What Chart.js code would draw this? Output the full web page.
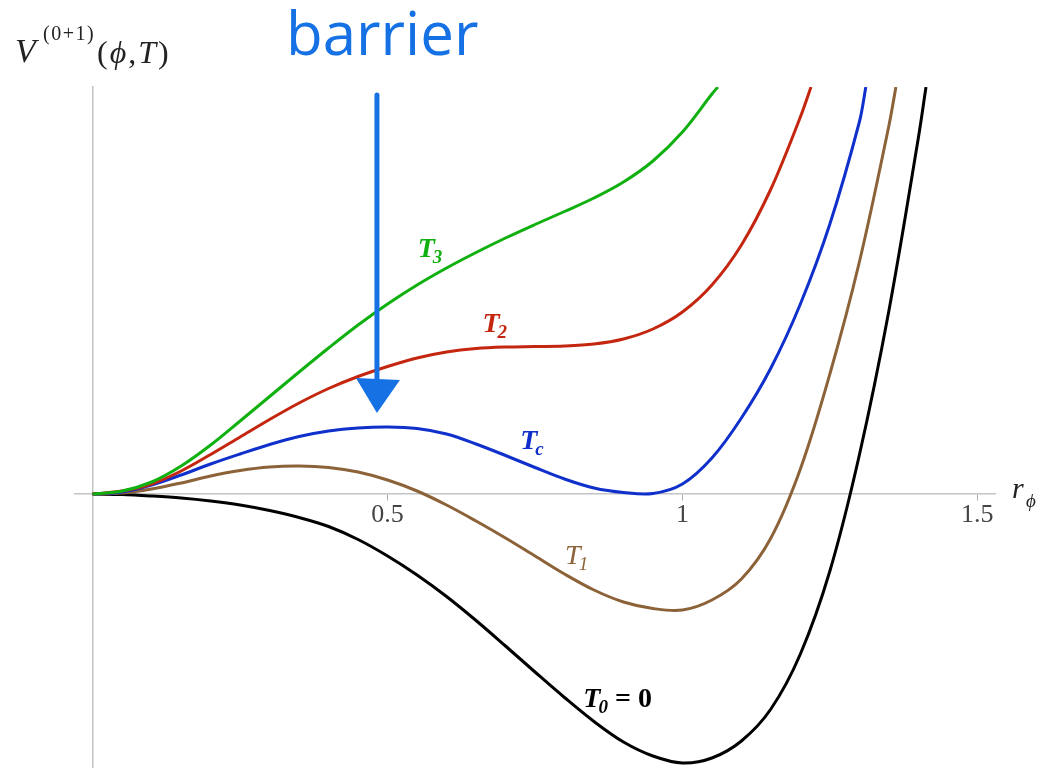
<!DOCTYPE html>
<html>
<head>
<meta charset="utf-8">
<script src="https://cdn.jsdelivr.net/npm/chart.js@4/dist/chart.umd.min.js"></script>
<style>
  html, body { margin: 0; padding: 0; background: #ffffff; }
  canvas { display: block; }
</style>
</head>
<body>
<canvas id="chart" width="1040" height="768"></canvas>
<script>
// Field value r_phi and potential V(phi,T) sampled along each temperature curve
const phiT3 = [0, 0.05, 0.1, 0.15, 0.2, 0.25, 0.3, 0.35, 0.4, 0.45, 0.5, 0.55, 0.6, 0.65, 0.7, 0.75, 0.8, 0.85, 0.9, 0.95, 1.0, 1.05, 1.06];
const vT3   = [0, 0.03, 0.12, 0.28, 0.49, 0.73, 0.975, 1.22, 1.46, 1.69, 1.90, 2.09, 2.26, 2.415, 2.56, 2.695, 2.825, 2.96, 3.12, 3.33, 3.62, 4.00, 4.07];

const phiT2 = [0, 0.05, 0.1, 0.15, 0.2, 0.25, 0.3, 0.35, 0.4, 0.45, 0.5, 0.55, 0.6, 0.65, 0.7, 0.75, 0.8, 0.85, 0.9, 0.95, 1.0, 1.05, 1.1, 1.15, 1.2, 1.218];
const vT2   = [0, 0.03, 0.10, 0.23, 0.395, 0.57, 0.745, 0.91, 1.055, 1.175, 1.275, 1.36, 1.42, 1.455, 1.47, 1.475, 1.48, 1.50, 1.55, 1.65, 1.82, 2.09, 2.49, 3.05, 3.77, 4.07];

const phiTc = [0, 0.05, 0.1, 0.15, 0.2, 0.25, 0.3, 0.35, 0.4, 0.45, 0.5, 0.55, 0.6, 0.65, 0.7, 0.75, 0.8, 0.85, 0.9, 0.95, 1.0, 1.05, 1.1, 1.15, 1.2, 1.25, 1.3, 1.311];
const vTc   = [0, 0.02, 0.09, 0.19, 0.30, 0.40, 0.495, 0.575, 0.63, 0.66, 0.67, 0.655, 0.60, 0.50, 0.385, 0.265, 0.15, 0.06, 0.015, 0.005, 0.10, 0.36, 0.76, 1.26, 1.90, 2.70, 3.72, 4.07];

const phiT1 = [0, 0.05, 0.1, 0.15, 0.2, 0.25, 0.3, 0.35, 0.4, 0.45, 0.5, 0.55, 0.6, 0.65, 0.7, 0.75, 0.8, 0.85, 0.9, 0.95, 1.0, 1.05, 1.1, 1.15, 1.2, 1.25, 1.3, 1.35, 1.362];
const vT1   = [0, 0.01, 0.05, 0.11, 0.18, 0.235, 0.27, 0.28, 0.265, 0.22, 0.14, 0.03, -0.11, -0.27, -0.44, -0.62, -0.80, -0.96, -1.08, -1.145, -1.16, -1.06, -0.85, -0.44, 0.25, 1.20, 2.32, 3.68, 4.07];

const phiT0 = [0, 0.05, 0.1, 0.15, 0.2, 0.25, 0.3, 0.35, 0.4, 0.45, 0.5, 0.55, 0.6, 0.65, 0.7, 0.75, 0.8, 0.85, 0.9, 0.95, 1.0, 1.05, 1.1, 1.15, 1.2, 1.25, 1.3, 1.35, 1.4, 1.413];
const vT0   = [0, -0.005, -0.02, -0.04, -0.07, -0.11, -0.165, -0.235, -0.325, -0.455, -0.62, -0.81, -1.025, -1.265, -1.52, -1.78, -2.035, -2.275, -2.48, -2.62, -2.69, -2.64, -2.47, -2.15, -1.60, -0.77, 0.39, 1.83, 3.56, 4.07];

// Tick labels on the r_phi axis
const xTickValues = [0.5, 1, 1.5];

// Barrier arrow: r_phi position and the potential values it spans
const arrowPhi = 0.482;
const arrowTop = 3.99;
const arrowHeadBase = 1.16;
const arrowTip = 0.81;

const COLORS = {
  T3: '#10b010',
  T2: '#c4260f',
  Tc: '#1030cc',
  T1: '#8c6239',
  T0: '#000000',
  note: '#1672e4',
  axis: '#c4c4c4',
  tickText: '#444444'
};

function series(xs, ys) {
  return xs.map((x, i) => ({ x: x, y: ys[i] }));
}

function curve(label, xs, ys, color) {
  return {
    label: label,
    data: series(xs, ys),
    borderColor: color,
    backgroundColor: color,
    borderWidth: 3,
    pointRadius: 0,
    showLine: true,
    fill: false,
    tension: 0.35
  };
}

// Curve labels, anchored in data coordinates
const curveLabels = [
  { main: 'T', sub: '3', rest: '', phi: 0.551, v: 2.37, color: COLORS.T3, bold: true },
  { main: 'T', sub: '2', rest: '', phi: 0.661, v: 1.62, color: COLORS.T2, bold: true },
  { main: 'T', sub: 'c', rest: '', phi: 0.725, v: 0.45, color: COLORS.Tc, bold: true },
  { main: 'T', sub: '1', rest: '', phi: 0.801, v: -0.70, color: COLORS.T1, bold: false },
  { main: 'T', sub: '0', rest: ' = 0', phi: 0.832, v: -2.13, color: COLORS.T0, bold: true }
];

const SERIF = '"Liberation Serif", "DejaVu Serif", serif';

function drawSubText(ctx, x, y, item) {
  const w = item.bold ? 'bold ' : '';
  ctx.fillStyle = item.color;
  ctx.textBaseline = 'alphabetic';
  ctx.textAlign = 'left';
  ctx.font = 'italic ' + w + '28px ' + SERIF;
  ctx.fillText(item.main, x, y);
  let cx = x + ctx.measureText(item.main).width - 2;
  ctx.font = 'italic ' + w + '19px ' + SERIF;
  ctx.fillText(item.sub, cx, y + 6);
  cx += ctx.measureText(item.sub).width;
  if (item.rest) {
    ctx.font = w + '28px ' + SERIF;
    ctx.fillText(item.rest, cx, y);
  }
}

function drawRun(ctx, parts, x, y, spacing) {
  let px = x;
  parts.forEach(p => {
    ctx.font = p.font;
    ctx.fillText(p.text, px, y);
    px += ctx.measureText(p.text).width + spacing;
  });
}

const annotations = {
  id: 'annotations',
  afterDatasetsDraw(chart) {
    const ctx = chart.ctx;
    const xs = chart.scales.x;
    const ys = chart.scales.y;
    ctx.save();

    // curve labels
    curveLabels.forEach(item => {
      drawSubText(ctx, xs.getPixelForValue(item.phi), ys.getPixelForValue(item.v), item);
    });

    // barrier arrow
    const ax = xs.getPixelForValue(arrowPhi);
    const yTop = ys.getPixelForValue(arrowTop);
    const yBase = ys.getPixelForValue(arrowHeadBase);
    const yTip = ys.getPixelForValue(arrowTip);
    ctx.strokeStyle = COLORS.note;
    ctx.fillStyle = COLORS.note;
    ctx.lineWidth = 5;
    ctx.lineCap = 'round';
    ctx.beginPath();
    ctx.moveTo(ax, yTop);
    ctx.lineTo(ax, yBase + 4);
    ctx.stroke();
    ctx.beginPath();
    ctx.moveTo(ax - 21, yBase);
    ctx.lineTo(ax + 23, yBase + 2);
    ctx.lineTo(ax, yTip);
    ctx.closePath();
    ctx.fill();

    // "barrier" note
    ctx.font = '60px "Open Sans", "Liberation Sans", sans-serif';
    ctx.textAlign = 'left';
    ctx.textBaseline = 'alphabetic';
    ctx.fillText('barrier', 286, 55);

    // vertical axis title V^(0+1)(phi,T)
    ctx.fillStyle = '#222222';
    ctx.font = 'italic 34px ' + SERIF;
    ctx.fillText('V', 15, 62);
    drawRun(ctx, [
      { text: '(', font: '20px ' + SERIF },
      { text: '0', font: '20px ' + SERIF },
      { text: '+', font: '20px ' + SERIF },
      { text: '1', font: '20px ' + SERIF },
      { text: ')', font: '20px ' + SERIF }
    ], 43, 40, 1.5);
    drawRun(ctx, [
      { text: '(', font: '32px ' + SERIF },
      { text: '\u03D5', font: 'italic 32px ' + SERIF },
      { text: ',', font: '32px ' + SERIF },
      { text: 'T', font: 'italic 32px ' + SERIF },
      { text: ')', font: '32px ' + SERIF }
    ], 97, 63, 2);

    // horizontal axis title r_phi
    const y0 = ys.getPixelForValue(0);
    ctx.font = 'italic 30px ' + SERIF;
    ctx.fillText('r', 1012, y0 + 4);
    ctx.font = 'italic 19px ' + SERIF;
    ctx.fillText('\u03D5', 1026, y0 + 13);

    ctx.restore();
  }
};

new Chart(document.getElementById('chart'), {
  type: 'scatter',
  data: {
    datasets: [
      curve('T3', phiT3, vT3, COLORS.T3),
      curve('T2', phiT2, vT2, COLORS.T2),
      curve('Tc', phiTc, vTc, COLORS.Tc),
      curve('T1', phiT1, vT1, COLORS.T1),
      curve('T0 = 0', phiT0, vT0, COLORS.T0)
    ]
  },
  options: {
    responsive: false,
    animation: false,
    layout: { padding: { left: 75, right: 45, top: 87, bottom: 1 } },
    plugins: {
      legend: { display: false },
      tooltip: { enabled: false }
    },
    scales: {
      x: {
        type: 'linear',
        position: { y: 0 },
        min: -0.03,
        max: 1.53,
        afterFit: s => { s.height = 0; },
        afterBuildTicks: s => { s.ticks = xTickValues.map(v => ({ value: v })); },
        border: { display: true, color: COLORS.axis, width: 1.5 },
        grid: { display: true, drawOnChartArea: false, drawTicks: true, tickLength: 6, color: '#aaaaaa', lineWidth: 1 },
        ticks: {
          autoSkip: false,
          maxRotation: 0,
          padding: 0,
          color: COLORS.tickText,
          font: { family: SERIF, size: 26 },
          callback: v => String(v)
        }
      },
      y: {
        type: 'linear',
        position: { x: 0 },
        min: -2.73,
        max: 4.07,
        afterFit: s => { s.width = 0; },
        border: { display: true, color: COLORS.axis, width: 1.5 },
        grid: { display: true, drawOnChartArea: false, drawTicks: false },
        ticks: { display: false }
      }
    }
  },
  plugins: [annotations]
});
</script>
</body>
</html>
